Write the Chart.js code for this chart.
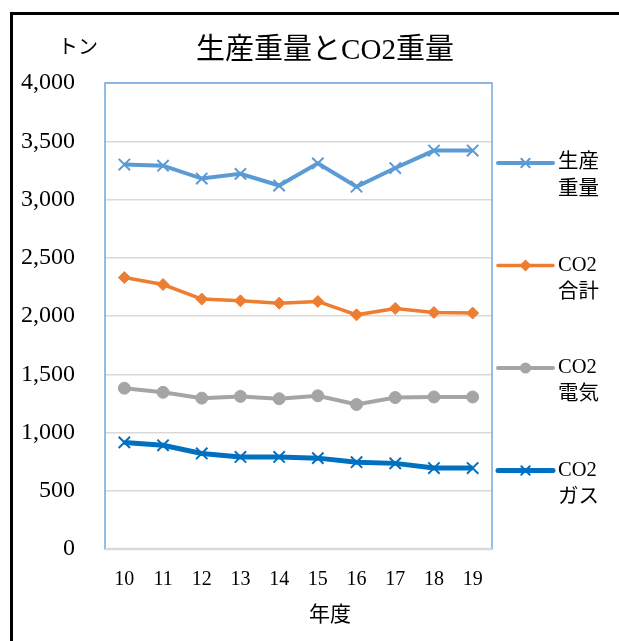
<!DOCTYPE html>
<html>
<head>
<meta charset="utf-8">
<script src="https://cdn.jsdelivr.net/npm/chart.js@4.4.1/dist/chart.umd.min.js"></script>
<style>
    html, body { margin: 0; padding: 0; background: #fff; overflow: hidden; }
    #frame {
        position: absolute; left: 10px; top: 12px; width: 700px; height: 700px;
        border-left: 3px solid #000; border-top: 3px solid #000;
    }
    #chartId { position: absolute; left: 0; top: 0; }
</style>
</head>
<body>
<div id="frame"></div>
<canvas id="chartId" width="619" height="641"></canvas>
<script>
// data
const years = ['10', '11', '12', '13', '14', '15', '16', '17', '18', '19'];
const production = [3300, 3290, 3180, 3220, 3120, 3310, 3110, 3270, 3420, 3420];
const co2Total = [2330, 2270, 2145, 2130, 2110, 2125, 2010, 2065, 2030, 2025];
const co2Elec = [1380, 1345, 1295, 1310, 1290, 1315, 1240, 1300, 1305, 1305];
const co2Gas = [915, 890, 820, 790, 790, 780, 745, 735, 695, 695];
const legendLines = [['生産', '重量'], ['CO2', '合計'], ['CO2', '電気'], ['CO2', 'ガス']];

const serif = "'Liberation Serif', 'Noto Sans CJK JP', serif";

function drawMarker(ctx, style, x, y, r, color) {
    ctx.save();
    ctx.fillStyle = color;
    ctx.strokeStyle = color;
    ctx.lineWidth = 2;
    ctx.beginPath();
    if (style === 'crossRot') {
        ctx.moveTo(x - r * 0.7, y - r * 0.7); ctx.lineTo(x + r * 0.7, y + r * 0.7);
        ctx.moveTo(x + r * 0.7, y - r * 0.7); ctx.lineTo(x - r * 0.7, y + r * 0.7);
        ctx.stroke();
    } else if (style === 'rectRot') {
        ctx.moveTo(x, y - r); ctx.lineTo(x + r, y); ctx.lineTo(x, y + r); ctx.lineTo(x - r, y);
        ctx.closePath(); ctx.fill();
    } else {
        ctx.arc(x, y, r, 0, Math.PI * 2); ctx.fill();
    }
    ctx.restore();
}

const decorPlugin = {
    id: 'decor',
    beforeDatasetsDraw(chart) {
        const { ctx, chartArea: a } = chart;
        ctx.save();
        ctx.strokeStyle = '#6FA8DC';
        ctx.lineWidth = 1.5;
        ctx.strokeRect(a.left, a.top, a.right - a.left, a.bottom - a.top);
        ctx.strokeStyle = '#D9D9D9';
        ctx.lineWidth = 2.5;
        ctx.beginPath();
        ctx.moveTo(a.left, a.bottom); ctx.lineTo(a.right, a.bottom);
        ctx.stroke();
        ctx.restore();
    },
    afterDraw(chart) {
        const { ctx, chartArea: a } = chart;
        ctx.save();
        ctx.fillStyle = '#000';
        ctx.textAlign = 'center';
        ctx.textBaseline = 'middle';
        ctx.font = '29px ' + serif;
        ctx.fillText('生産重量とCO2重量', 325, 51);
        ctx.font = '20px ' + serif;
        ctx.fillText('トン', 78, 49);
        ctx.font = '21px ' + serif;
        ctx.fillText('年度', 330, 615);

        // legend
        const x0 = a.right + 6, x1 = a.right + 61;
        chart.data.datasets.forEach((ds, i) => {
            const y = 163 + i * 102.5;
            ctx.strokeStyle = ds.borderColor;
            ctx.lineWidth = ds.borderWidth;
            ctx.lineCap = 'round';
            ctx.beginPath();
            ctx.moveTo(x0, y); ctx.lineTo(x1, y);
            ctx.stroke();
            drawMarker(ctx, ds.pointStyle, (x0 + x1) / 2, y, ds.pointStyle === 'circle' ? 5.5 : 6, ds.borderColor);
            ctx.fillStyle = '#000';
            ctx.textAlign = 'left';
            ctx.font = '20.5px ' + serif;
            legendLines[i].forEach((t, j) => ctx.fillText(t, x1 + 5, y + j * 27));
        });
        ctx.restore();
    }
};

const ctx = document.getElementById('chartId').getContext('2d');
new Chart(ctx, {
    type: 'line',
    data: {
        labels: years,
        datasets: [
            {
                label: '生産重量', data: production,
                borderColor: '#5B9BD5', backgroundColor: '#5B9BD5', borderWidth: 4,
                pointStyle: 'crossRot', pointRadius: 8, pointBorderWidth: 2
            },
            {
                label: 'CO2合計', data: co2Total,
                borderColor: '#ED7D31', backgroundColor: '#ED7D31', borderWidth: 3.5,
                pointStyle: 'rectRot', pointRadius: 6, pointBorderWidth: 1
            },
            {
                label: 'CO2電気', data: co2Elec,
                borderColor: '#A5A5A5', backgroundColor: '#A5A5A5', borderWidth: 4,
                pointStyle: 'circle', pointRadius: 6, pointBorderWidth: 1
            },
            {
                label: 'CO2ガス', data: co2Gas,
                borderColor: '#0070C0', backgroundColor: '#0070C0', borderWidth: 5,
                pointStyle: 'crossRot', pointRadius: 8, pointBorderWidth: 2
            }
        ]
    },
    options: {
        responsive: false,
        animation: false,
        layout: { padding: { top: 83, right: 127, left: 0, bottom: 0 } },
        plugins: {
            legend: { display: false },
            title: { display: false },
            tooltip: { enabled: false }
        },
        scales: {
            x: {
                offset: true,
                grid: { display: false, drawTicks: false },
                border: { display: false },
                ticks: { color: '#000', font: { family: serif, size: 20 }, padding: 19 },
                afterFit: (s) => { s.height = 92; }
            },
            y: {
                min: 0, max: 4000,
                grid: { color: '#D9D9D9', lineWidth: 1.5, drawTicks: false },
                border: { display: false },
                ticks: {
                    stepSize: 500, color: '#000', padding: 30,
                    font: { family: serif, size: 24 },
                    callback: (v) => v.toLocaleString('en-US')
                },
                afterFit: (s) => { s.width = 105; }
            }
        }
    },
    plugins: [decorPlugin]
});
</script>
</body>
</html>
